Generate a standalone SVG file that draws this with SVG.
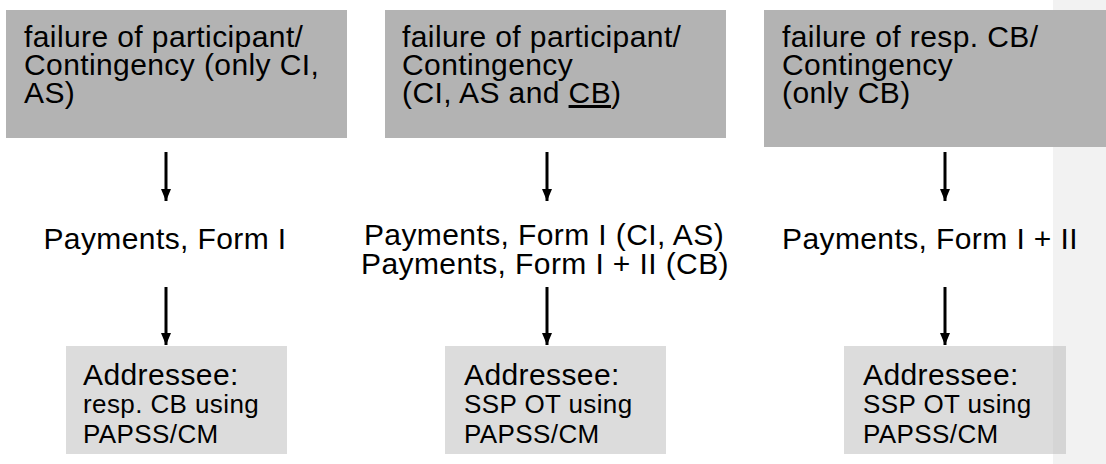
<svg xmlns="http://www.w3.org/2000/svg" width="1106" height="464" viewBox="0 0 1106 464">
<defs>
<style>
text{font-family:"Liberation Sans",Arial,sans-serif;fill:#000;letter-spacing:0.4px}
.t{font-size:30px}
.s{font-size:26px}
.top{fill:#b3b3b3}
.bot{fill:#dcdcdc}
.conn line{stroke:#000;stroke-width:3}
</style>
<marker id="ah" viewBox="0 0 12 10" refX="12" refY="5" markerUnits="userSpaceOnUse" markerWidth="12" markerHeight="10" orient="auto">
<path d="M0,0L12,5L0,10Z" fill="#000"/>
</marker>
</defs>
<rect x="0" y="0" width="1106" height="464" fill="#fff"/>
<rect id="strip" x="1053" y="0" width="53" height="464" fill="#f2f2f2"/>

<g id="top1">
<rect class="top" x="6" y="10" width="341" height="128"/>
<text class="t" x="24" y="47">failure of participant/</text>
<text class="t" x="24" y="75">Contingency (only CI,</text>
<text class="t" x="24" y="103">AS)</text>
</g>
<g id="top2">
<rect class="top" x="385" y="10" width="341" height="128"/>
<text class="t" x="402" y="47">failure of participant/</text>
<text class="t" x="402" y="75">Contingency</text>
<text class="t" x="402" y="103">(CI, AS and <tspan text-decoration="underline">CB</tspan>)</text>
</g>
<g id="top3">
<rect class="top" x="764" y="10" width="342" height="137"/>
<text class="t" x="782" y="47">failure of resp. CB/</text>
<text class="t" x="782" y="75">Contingency</text>
<text class="t" x="782" y="103">(only CB)</text>
</g>

<g id="mid1">
<text class="t" x="165" y="249" text-anchor="middle">Payments, Form I</text>
</g>
<g id="mid2">
<text class="t" x="544" y="245" text-anchor="middle">Payments, Form I (CI, AS)</text>
<text class="t" x="545" y="274" text-anchor="middle">Payments, Form I + II (CB)</text>
</g>
<g id="mid3">
<text class="t" x="930" y="249" text-anchor="middle">Payments, Form I + II</text>
</g>

<g id="bot1">
<rect class="bot" x="66" y="346" width="221" height="108"/>
<text class="t" x="83" y="385">Addressee:</text>
<text class="s" x="83" y="413">resp. CB using</text>
<text class="s" x="83" y="443">PAPSS/CM</text>
</g>
<g id="bot2">
<rect class="bot" x="445" y="346" width="221" height="108"/>
<text class="t" x="464" y="385">Addressee:</text>
<text class="s" x="464" y="413">SSP OT using</text>
<text class="s" x="464" y="443">PAPSS/CM</text>
</g>
<g id="bot3">
<rect class="bot" x="844" y="346" width="222" height="108"/>
<rect x="1053" y="346" width="13" height="108" fill="#d5d5d5"/>
<text class="t" x="863" y="385">Addressee:</text>
<text class="s" x="863" y="413">SSP OT using</text>
<text class="s" x="863" y="443">PAPSS/CM</text>
</g>

<g id="connectors" class="conn">
<line x1="166" y1="152" x2="166" y2="201" marker-end="url(#ah)"/>
<line x1="166" y1="287" x2="166" y2="345" marker-end="url(#ah)"/>
<line x1="547" y1="152" x2="547" y2="201" marker-end="url(#ah)"/>
<line x1="547" y1="287" x2="547" y2="345" marker-end="url(#ah)"/>
<line x1="945" y1="152" x2="945" y2="201" marker-end="url(#ah)"/>
<line x1="945" y1="287" x2="945" y2="345" marker-end="url(#ah)"/>
</g>
</svg>
